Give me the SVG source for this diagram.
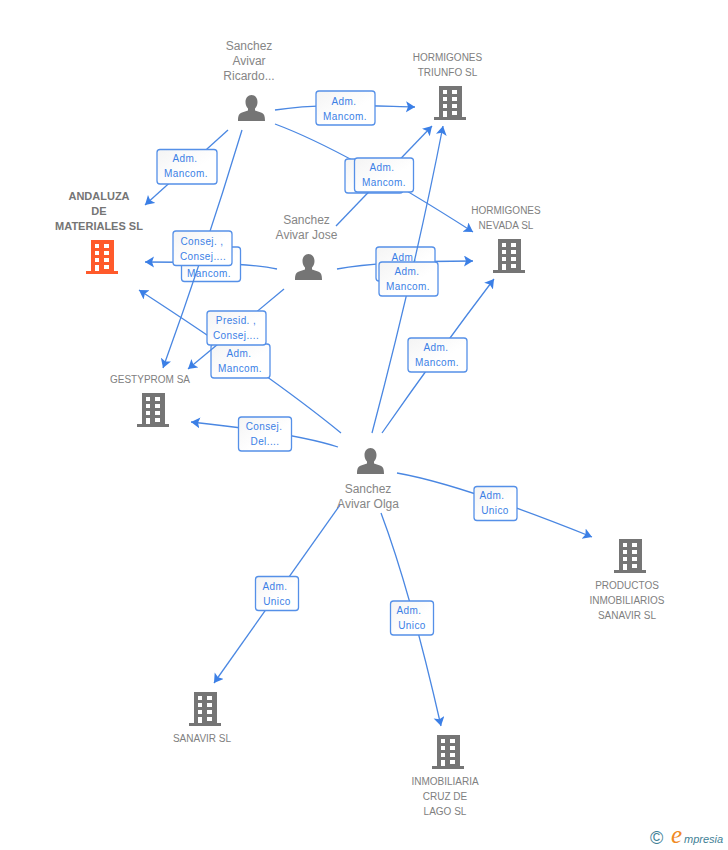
<svg xmlns="http://www.w3.org/2000/svg" width="728" height="850" viewBox="0 0 728 850">
<style>
text{font-family:"Liberation Sans",Arial,sans-serif}
.n{font-size:12px;fill:#868686;text-anchor:middle}
.c{font-size:10px;fill:#808080;text-anchor:middle}
.m{font-size:11px;font-weight:bold;fill:#757575;text-anchor:middle}
.l{font-size:10px;letter-spacing:.4px;fill:#3b7fe6;text-anchor:middle}
.e{fill:none;stroke:#4a87e2;stroke-width:1.3;marker-end:url(#a)}
.b{fill:url(#g);stroke:#5590e8;stroke-width:1.3}
.bld{fill:#757575}
.hot{fill:#ff5a2b}
</style>
<defs>
<linearGradient id="g" x1="0" y1="0" x2="1" y2="1"><stop offset="0" stop-color="#f4f4f4"/><stop offset=".6" stop-color="#fff"/></linearGradient>
<marker id="a" markerUnits="userSpaceOnUse" markerWidth="12" markerHeight="12" refX="9" refY="5.500" orient="auto"><path d="M9 5.500L0 0L2 5.500L0 11Z" fill="#3b7fe6"/></marker>
<symbol id="building" viewBox="0 0 32 34" width="32" height="34" overflow="visible">
<path fill-rule="evenodd" d="M5 0H28V31H32V34H0V31H5ZM9 4V8H13V4ZM18 4V8H23V4ZM9 11V15H13V11ZM18 11V15H23V11ZM9 18V22H13V18ZM18 18V22H23V18ZM9 25V31H13V25ZM18 25V29H23V25Z"/>
</symbol>
<symbol id="person" viewBox="0 0 27 26" width="27" height="26" overflow="visible">
<path fill="#757575" d="M13.500 0C17 0 19.500 3 19.500 7C19.500 10 18.500 12 17 13.500V15.500L23 17.500C26 18.500 27 20.500 27 26H0C0 20.500 1 18.500 4 17.500L10 15.500V13.500C8.500 12 7.500 10 7.500 7C7.500 3 10 0 13.500 0Z"/>
</symbol>
</defs>
<g id="connectors">
<path class="e" d="M228 130L145 205"/>
<rect class="b" x="157" y="149.500" width="60" height="34.500" rx="3"/><text class="l" x="185" y="162">Adm.</text><text class="l" x="186" y="177">Mancom.</text>

<path class="e" d="M275 110C320 103 370 106 415 107"/>
<rect class="b" x="316" y="91" width="59" height="34" rx="3"/><text class="l" x="344" y="105">Adm.</text><text class="l" x="345" y="120">Mancom.</text>

<path class="e" d="M275 124Q345 150 473 232"/>
<rect class="b" x="345" y="159" width="58" height="34" rx="3"/>
<path class="e" d="M336 226L432 126"/>
<rect class="b" x="354.500" y="158" width="59" height="34" rx="3"/><text class="l" x="382" y="171">Adm.</text><text class="l" x="384" y="186">Mancom.</text>

<path class="e" d="M277 269Q245 262 145 262"/>
<rect class="b" x="181.500" y="247" width="59" height="34.500" rx="3"/><text class="l" x="209" y="277">Mancom.</text>
<path class="e" d="M242 130Q206 249 163 368"/>
<rect class="b" x="173" y="231" width="59" height="34.500" rx="3"/><text class="l" x="202" y="244.500">Consej. ,</text><text class="l" x="203" y="259.500">Consej....</text>

<path class="e" d="M337 269Q380 261 473 261"/>
<rect class="b" x="376" y="247" width="59" height="34" rx="3"/><text class="l" x="404" y="261">Adm.</text>
<path class="e" d="M372 433Q415 270 443 126"/>
<rect class="b" x="379" y="262" width="59" height="34" rx="3"/><text class="l" x="407" y="275">Adm.</text><text class="l" x="408" y="290">Mancom.</text>

<path class="e" d="M341 433Q270 375 139 290"/>
<rect class="b" x="211" y="344" width="59" height="34" rx="3"/><text class="l" x="239" y="357">Adm.</text><text class="l" x="240" y="372">Mancom.</text>
<path class="e" d="M284 289L188 369"/>
<rect class="b" x="207" y="311" width="59" height="34" rx="3"/><text class="l" x="236" y="324">Presid. ,</text><text class="l" x="236" y="339">Consej....</text>

<path class="e" d="M338 447Q295 433 191 422"/>
<rect class="b" x="238.500" y="417" width="53" height="34" rx="3"/><text class="l" x="264" y="430">Consej.</text><text class="l" x="265" y="445">Del....</text>

<path class="e" d="M382 433Q440 350 494 279"/>
<rect class="b" x="408" y="338" width="59" height="34" rx="3"/><text class="l" x="436" y="351">Adm.</text><text class="l" x="437" y="366">Mancom.</text>

<path class="e" d="M397 473Q460 484 592 537"/>
<rect class="b" x="474" y="486.500" width="43" height="34" rx="3"/><text class="l" x="492" y="499">Adm.</text><text class="l" x="495" y="514">Unico</text>

<path class="e" d="M340 505L214 683"/>
<rect class="b" x="255.500" y="576.500" width="43" height="34" rx="3"/><text class="l" x="275" y="590">Adm.</text><text class="l" x="277" y="605">Unico</text>

<path class="e" d="M381 513Q410 590 441 726"/>
<rect class="b" x="390.500" y="601" width="43" height="34" rx="3"/><text class="l" x="409" y="614">Adm.</text><text class="l" x="412" y="629">Unico</text>
</g>
<g id="node-andaluza"><text class="m" x="99" y="200">ANDALUZA</text><text class="m" x="99" y="215">DE</text><text class="m" x="99" y="230">MATERIALES SL</text><use href="#building" class="hot" x="86" y="240"/></g>
<g id="node-ricardo"><text class="n" x="249" y="50">Sanchez</text><text class="n" x="249" y="65">Avivar</text><text class="n" x="249" y="80">Ricardo...</text><use href="#person" x="238" y="95"/></g>
<g id="node-jose"><text class="n" x="306.500" y="224">Sanchez</text><text class="n" x="306.500" y="239">Avivar Jose</text><use href="#person" x="295" y="254"/></g>
<g id="node-olga"><use href="#person" x="357" y="448"/><text class="n" x="368" y="493">Sanchez</text><text class="n" x="368" y="508">Avivar Olga</text></g>
<g id="node-triunfo"><text class="c" x="447.500" y="61">HORMIGONES</text><text class="c" x="447.500" y="76">TRIUNFO SL</text><use href="#building" class="bld" x="434" y="86"/></g>
<g id="node-nevada"><text class="c" x="506" y="214">HORMIGONES</text><text class="c" x="506" y="229">NEVADA SL</text><use href="#building" class="bld" x="493" y="239"/></g>
<g id="node-gestyprom"><text class="c" x="150" y="383">GESTYPROM SA</text><use href="#building" class="bld" x="137" y="393"/></g>
<g id="node-productos"><use href="#building" class="bld" x="614" y="539"/><text class="c" x="627" y="589">PRODUCTOS</text><text class="c" x="627" y="604">INMOBILIARIOS</text><text class="c" x="627" y="619">SANAVIR SL</text></g>
<g id="node-sanavir"><use href="#building" class="bld" x="189" y="692"/><text class="c" x="202" y="742">SANAVIR SL</text></g>
<g id="node-inmobiliaria"><use href="#building" class="bld" x="432" y="735"/><text class="c" x="445" y="785">INMOBILIARIA</text><text class="c" x="445" y="800">CRUZ DE</text><text class="c" x="445" y="815">LAGO SL</text></g>
<g id="logo"><text x="650" y="844" font-size="18" fill="#3f7f96">©</text><text x="671" y="843" font-size="25" font-style="italic" fill="#f08a24" style="font-family:'Liberation Serif',serif">e</text><text x="684" y="843" font-size="11" font-style="italic" fill="#3f7f96">mpresia</text></g>
</svg>
